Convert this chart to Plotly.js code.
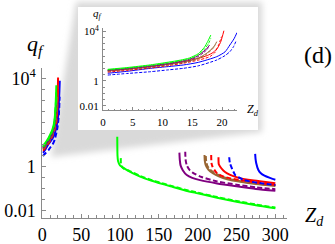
<!DOCTYPE html>
<html>
<head>
<meta charset="utf-8">
<script src="https://cdn.plot.ly/plotly-3.0.1.min.js"></script>
<style>html,body{margin:0;padding:0;background:#fff}#chart{width:335px;height:244px}</style>
</head>
<body>
<div id="chart"></div>
<script>
// ---- Inset / left-cluster data (Z_d small) ----
var gsX = [0.8, 4, 8, 11, 13, 14.5, 16, 17, 17.6, 18.1];
var gsY = [8.7, 12, 20, 33, 48, 71, 158, 500, 1580, 5000];
var gdX = [0.8, 4, 8, 11, 13, 14.5, 16, 17, 17.7, 18.1];
var gdY = [7.9, 10.7, 17.8, 28.8, 41.7, 60.3, 126, 355, 1000, 2750];
var psX = [0.8, 4, 8, 11, 13, 14.5, 15.8, 16.8, 17.5, 17.9];
var psY = [7.6, 10.2, 16.6, 26.3, 38, 56, 100, 224, 447, 794];
var pdX = [0.8, 4, 8, 11, 13, 14.5, 15.8, 16.8, 17.4, 17.7];
var pdY = [7.1, 9.5, 15.1, 24, 33.9, 47.9, 83, 178, 316, 501];
var brsX = [0.8, 4, 8, 11, 14, 16, 17.3, 18.3, 18.8, 19.1];
var brsY = [6.9, 9.1, 14.5, 22.4, 37.2, 70.8, 158, 398, 794, 1480];
var brdX = [0.8, 4, 8, 11, 14, 16, 17.2, 18.1, 18.6, 18.8];
var brdY = [6.3, 8.3, 13.2, 20, 33.1, 60.3, 126, 282, 501, 708];
var rsX = [0.8, 4, 8, 11, 13.5, 16, 17.5, 18.5, 19.3, 19.8, 20.3];
var rsY = [6.3, 8.5, 14.1, 22.4, 36.3, 66.1, 112, 200, 501, 1585, 11220];
var rdX = [0.8, 4, 8, 11, 13.5, 16, 17.3, 18, 18.8, 19.4, 19.9];
var rdY = [5.2, 7.1, 11.2, 17.4, 26.9, 47.9, 70.8, 95.5, 200, 794, 3715];
var bsX = [0.8, 4, 8, 11, 13.5, 16, 19.1, 20.5, 21.3, 22, 22.5];
var bsY = [4.2, 6.0, 10.5, 14.5, 19.5, 31.6, 91.2, 224, 794, 2512, 7943];
var bdX = [0.8, 4, 8, 11, 13.5, 16, 19.1, 20.5, 21.3, 21.9, 22.3];
var bdY = [3.0, 4.0, 5.6, 7.9, 10.5, 16.6, 49, 112, 229, 562, 1480];

// ---- Right-cluster data (Z_d large) ----
var gs2X = [96.5, 96.8, 97.5, 100, 109, 126, 140, 150, 165, 185, 200, 225, 250, 275, 300];
var gs2Y = [22.4, 3.16, 1.78, 1.12, 0.69, 0.347, 0.229, 0.178, 0.126, 0.0794, 0.0603, 0.038, 0.0251, 0.0174, 0.0126];
var gd2X = [101, 101.3, 102.5, 105, 112, 126, 140, 150, 165, 185, 200, 225, 250, 275, 300];
var gd2Y = [2.4, 1.26, 0.955, 0.794, 0.631, 0.372, 0.245, 0.191, 0.135, 0.0851, 0.0646, 0.0407, 0.0269, 0.0186, 0.0135];
var ps2X = [176.5, 177, 178, 181, 186, 193, 203, 225, 250, 275, 300];
var ps2Y = [4.27, 2.0, 1.12, 0.661, 0.407, 0.302, 0.24, 0.17, 0.126, 0.0955, 0.0794];
var pd2X = [184, 184.5, 186, 190, 195, 205, 225, 250, 275, 300];
var pd2Y = [4.68, 2.0, 1.12, 0.661, 0.49, 0.331, 0.209, 0.148, 0.112, 0.0933];
var brs2X = [208.8, 209.2, 210.5, 214, 220, 228, 238, 255, 275, 300];
var brs2Y = [3.31, 1.78, 1.12, 0.708, 0.49, 0.347, 0.263, 0.2, 0.158, 0.129];
var brd2X = [210.5, 211, 212.5, 216, 222, 230, 240, 257, 277, 300];
var brd2Y = [3.02, 1.66, 1.07, 0.708, 0.501, 0.363, 0.275, 0.209, 0.166, 0.138];
var rd2X = [217.4, 217.8, 219, 222, 225, 232, 242, 260, 280, 300];
var rd2Y = [3.31, 1.41, 1.0, 0.661, 0.49, 0.363, 0.288, 0.224, 0.178, 0.145];
var rs2X = [226.8, 227.2, 229, 233, 238, 245, 255, 270, 285, 300];
var rs2Y = [2.63, 1.26, 0.977, 0.661, 0.49, 0.372, 0.288, 0.234, 0.2, 0.174];
var bd2X = [240.6, 241.5, 244, 248.3, 253, 259, 270, 285, 300];
var bd2Y = [2.63, 1.41, 0.832, 0.407, 0.316, 0.245, 0.2, 0.166, 0.145];
var bs2X = [274, 274.5, 275.4, 278, 281, 286, 293, 300];
var bs2Y = [3.72, 2.24, 1.41, 0.708, 0.501, 0.38, 0.302, 0.251];

// tick labels
var mainXTicks = [0, 50, 100, 150, 200, 250, 300];
var mainYTicks = [0.01, 1, 10000];
var mainYText = ['0.01', '1', '10<sup>4</sup>'];
var insetXTicks = [0, 5, 10, 15, 20];

var GREEN = '#00ff00', PURPLE = '#800080', BROWN = '#996633', RED = '#ff0000', BLUE = '#0000ff';

var smallSeries = [
  [bdX, bdY, BLUE, 'dash'], [bsX, bsY, BLUE, 'solid'],
  [rdX, rdY, RED, 'dash'], [rsX, rsY, RED, 'solid'],
  [brdX, brdY, BROWN, 'dash'], [brsX, brsY, BROWN, 'solid'],
  [pdX, pdY, PURPLE, 'dash'], [psX, psY, PURPLE, 'solid'],
  [gsX, gsY, GREEN, 'solid'], [gdX, gdY, GREEN, 'dash']
];
var bigSeries = [
  [gs2X, gs2Y, GREEN, 'solid'], [gd2X, gd2Y, GREEN, 'dash'],
  [ps2X, ps2Y, PURPLE, 'solid'], [pd2X, pd2Y, PURPLE, 'dash'],
  [brs2X, brs2Y, BROWN, 'solid'], [brd2X, brd2Y, BROWN, 'dash'],
  [rd2X, rd2Y, RED, 'dash'], [rs2X, rs2Y, RED, 'solid'],
  [bd2X, bd2Y, BLUE, 'dash'], [bs2X, bs2Y, BLUE, 'solid']
];

function dashOf(d, big) { return d === 'solid' ? 'solid' : (big ? '5px,2.5px' : '3px,1.5px'); }

var traces = [];
smallSeries.forEach(function (s) {
  traces.push({x: s[0], y: s[1], type: 'scatter', mode: 'lines', xaxis: 'x', yaxis: 'y',
    line: {color: s[2], dash: dashOf(s[3], true), width: 2, shape: 'spline', smoothing: 0.6}, hoverinfo: 'skip'});
});
bigSeries.forEach(function (s) {
  traces.push({x: s[0], y: s[1], type: 'scatter', mode: 'lines', xaxis: 'x', yaxis: 'y',
    line: {color: s[2], dash: dashOf(s[3], true), width: 2, shape: 'spline', smoothing: 0.6}, hoverinfo: 'skip'});
});
smallSeries.forEach(function (s) {
  traces.push({x: s[0], y: s[1], type: 'scatter', mode: 'lines', xaxis: 'x2', yaxis: 'y2',
    line: {color: s[2], dash: dashOf(s[3], false), width: 1, shape: 'spline', smoothing: 0.6}, hoverinfo: 'skip'});
});

var W = 335, H = 244;
function px(x) { return x / W; }
function py(y) { return 1 - y / H; }

var halfDec = [];
for (var i = -5; i <= 9; i++) halfDec.push(Math.pow(10, i / 2));
var AX = '#8a8a8a';
var serif = 'Liberation Serif, Times New Roman, serif';

var layout = {
  width: W, height: H,
  margin: {l: 0, r: 0, t: 0, b: 0},
  paper_bgcolor: 'white', plot_bgcolor: 'rgba(0,0,0,0)',
  showlegend: false,
  font: {family: serif, size: 18, color: 'black'},
  xaxis: {domain: [px(42.3), px(287)], range: [0, 315], anchor: 'y',
    showline: true, linecolor: AX, linewidth: 1, showgrid: false, zeroline: false,
    ticks: 'inside', ticklen: 4, tickcolor: AX, tickvals: mainXTicks,
    minor: {dtick: 10, ticks: 'inside', ticklen: 2.5, tickcolor: AX, showgrid: false},
    ticklabelstandoff: 1, tickfont: {family: serif, size: 18, color: 'black'}},
  yaxis: {domain: [py(217.7), py(68)], type: 'log', range: [-2.33, 4.48], anchor: 'x',
    showline: true, linecolor: AX, linewidth: 1, showgrid: false, zeroline: false,
    ticks: 'inside', ticklen: 4, tickcolor: AX, tickvals: mainYTicks, ticktext: mainYText,
    minor: {tickvals: halfDec, ticks: 'inside', ticklen: 2.5, tickcolor: AX, showgrid: false},
    ticklabelstandoff: 2, tickfont: {family: serif, size: 18, color: 'black'}},
  xaxis2: {domain: [px(103), px(237)], range: [0, 22.5], anchor: 'y2',
    showline: true, linecolor: AX, linewidth: 1, showgrid: false, zeroline: false,
    ticks: 'inside', ticklen: 3, tickcolor: AX, tickvals: insetXTicks,
    minor: {dtick: 1, ticks: 'inside', ticklen: 1.5, tickcolor: AX, showgrid: false},
    ticklabelstandoff: 2, tickfont: {family: serif, size: 11, color: 'black'}},
  yaxis2: {domain: [py(110), py(28)], type: 'log', range: [-2.34, 4.27], anchor: 'x2',
    showline: true, linecolor: AX, linewidth: 1, showgrid: false, zeroline: false,
    ticks: 'inside', ticklen: 3, tickcolor: AX, tickvals: mainYTicks, ticktext: mainYText,
    minor: {tickvals: halfDec, ticks: 'inside', ticklen: 1.5, tickcolor: AX, showgrid: false},
    ticklabelstandoff: 1, tickfont: {family: serif, size: 11, color: 'black'}},
  shapes: [
    {type: 'path', xref: 'paper', yref: 'paper', layer: 'below',
     path: 'M' + px(76) + ',' + py(2) + ' L' + px(262) + ',' + py(2) + ' L' + px(262) + ',' + py(132) +
           ' L' + px(51) + ',' + py(157) + ' Z',
     fillcolor: '#d9d9d9', line: {width: 0}},
    {type: 'rect', xref: 'paper', yref: 'paper', layer: 'below',
     x0: px(78), x1: px(258), y0: py(130), y1: py(7),
     fillcolor: 'white', line: {width: 0}}
  ],
  annotations: [
    {xref: 'paper', yref: 'paper', x: px(36), y: py(45), text: '<i>q</i><sub><i>f</i></sub>', showarrow: false,
     font: {family: serif, size: 22, color: 'black'}, xanchor: 'center', yanchor: 'middle'},
    {xref: 'paper', yref: 'paper', x: px(314), y: py(216), text: '<i>Z</i><sub><i>d</i></sub>', showarrow: false,
     font: {family: serif, size: 20, color: 'black'}, xanchor: 'center', yanchor: 'middle'},
    {xref: 'paper', yref: 'paper', x: px(98), y: py(14), text: '<i>q</i><sub><i>f</i></sub>', showarrow: false,
     font: {family: serif, size: 11, color: 'black'}, xanchor: 'center', yanchor: 'middle'},
    {xref: 'paper', yref: 'paper', x: px(253), y: py(110), text: '<i>Z</i><sub><i>d</i></sub>', showarrow: false,
     font: {family: serif, size: 12, color: 'black'}, xanchor: 'center', yanchor: 'middle'},
    {xref: 'paper', yref: 'paper', x: px(318), y: py(55), text: '(d)', showarrow: false,
     font: {family: serif, size: 24, color: 'black'}, xanchor: 'center', yanchor: 'middle'}
  ]
};

Plotly.newPlot('chart', traces, layout, {staticPlot: true, displayModeBar: false}).then(function (gd) {
  try {
    var svg = gd.querySelector('svg.main-svg');
    var ns = 'http://www.w3.org/2000/svg';
    var defs = svg.querySelector('defs') || svg.insertBefore(document.createElementNS(ns, 'defs'), svg.firstChild);
    var f = document.createElementNS(ns, 'filter');
    f.setAttribute('id', 'softshadow');
    f.setAttribute('x', '-20%'); f.setAttribute('y', '-20%');
    f.setAttribute('width', '140%'); f.setAttribute('height', '140%');
    var b = document.createElementNS(ns, 'feGaussianBlur');
    b.setAttribute('stdDeviation', '3');
    f.appendChild(b);
    defs.appendChild(f);
    var paths = gd.querySelectorAll('.shapelayer path');
    if (paths.length) paths[0].setAttribute('filter', 'url(#softshadow)');
  } catch (e) {}
});
</script>
</body>
</html>
